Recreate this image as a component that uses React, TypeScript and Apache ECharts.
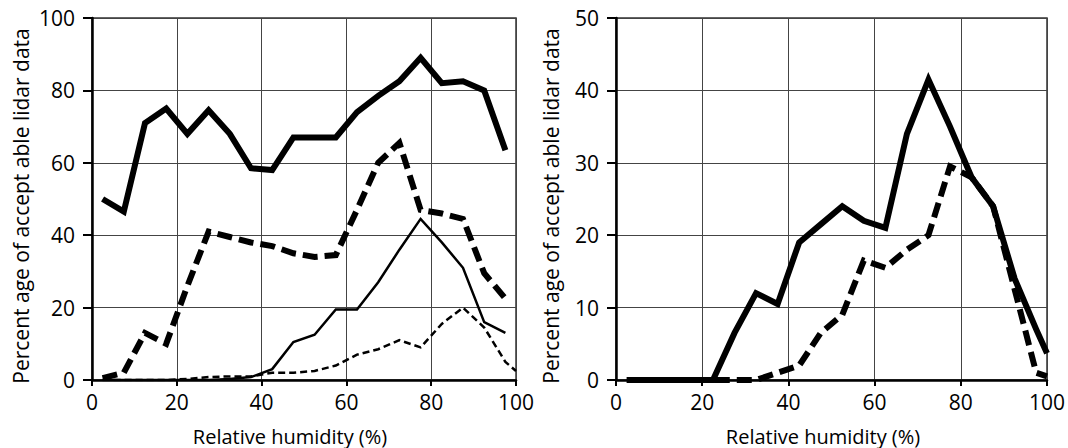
import React, { useEffect, useRef } from "react";
import * as echarts from "echarts";

// Relative humidity bin centres (%)
const rhBins = [2.5, 7.5, 12.5, 17.5, 22.5, 27.5, 32.5, 37.5, 42.5, 47.5, 52.5, 57.5, 62.5, 67.5, 72.5, 77.5, 82.5, 87.5, 92.5, 97.5];
const rhBinsExt = [2.5, 7.5, 12.5, 17.5, 22.5, 27.5, 32.5, 37.5, 42.5, 47.5, 52.5, 57.5, 62.5, 67.5, 72.5, 77.5, 82.5, 87.5, 92.5, 97.5, 100];

// Left panel
const leftThickSolid = [50, 46.5, 71, 75, 68, 74.5, 68, 58.5, 58, 67, 67, 67, 74, 78.5, 82.5, 89, 82, 82.5, 80, 63.5];
const leftThickDashed = [0.5, 2, 13, 10, 26, 41, 39.5, 38, 37, 35, 34, 34.5, 47, 60, 65.5, 47, 46, 44.5, 29.5, 22.5];
const leftThinSolid = [0, 0, 0, 0, 0, 0, 0.3, 0.8, 3, 10.5, 12.5, 19.5, 19.5, 27, 36, 44.5, 38, 31, 16, 13];
const leftThinDashed = [0, 0, 0, 0, 0.3, 0.8, 1, 1, 2, 2, 2.5, 4, 7, 8.5, 11, 9, 15.5, 20, 14.5, 5, 2.5];

// Right panel
const rightThickSolid = [0, 0, 0, 0, 0, 6.5, 12, 10.5, 19, 21.5, 24, 22, 21, 34, 41.5, 35, 28, 24, 14, 7, 3.7];
const rightThickDashed = [0, 0, 0, 0, 0, 0, 0, 1, 2, 6.5, 9, 16.5, 15.5, 18, 20, 29.5, 28, 24, 12.5, 1, 0.5];

const xTicks = { min: 0, max: 100, interval: 20 };
const leftY = { min: 0, max: 100, interval: 20 };
const rightY = { min: 0, max: 50, interval: 10 };

const yTitle = "Percent age of accept able lidar data";
const xTitle = "Relative humidity (%)";

const FONT = "'Open Sans', 'Noto Sans', sans-serif";

function pairs(xs: number[], ys: number[]) {
  return ys.map((y, i) => [xs[i], y]);
}

export default function App() {
  const ref = useRef<HTMLDivElement>(null);
  useEffect(() => {
    if (!ref.current) return;
    const chart = echarts.init(ref.current, null, { renderer: "svg" });
    const axisLine = { show: true, onZero: false, lineStyle: { color: "#000", width: 2.5 } };
    const split = { show: true, lineStyle: { color: "#444", width: 1 } };
    const mkX = (gi: number) => ({
      type: "value",
      gridIndex: gi,
      ...xTicks,
      axisLine,
      axisTick: { show: true, length: 6, lineStyle: { color: "#000", width: 2 } },
      axisLabel: { fontSize: 21, color: "#000", fontFamily: FONT, margin: 11 },
      splitLine: split,
    });
    const mkY = (gi: number, r: any) => ({
      type: "value",
      gridIndex: gi,
      ...r,
      axisLine,
      axisTick: { show: true, length: 9, lineStyle: { color: "#000", width: 2 } },
      axisLabel: { fontSize: 21, color: "#000", fontFamily: FONT, margin: 17 },
      splitLine: split,
    });
    const line = (gi: number, data: number[][], width: number, type: any) => ({
      type: "line",
      xAxisIndex: gi,
      yAxisIndex: gi,
      data,
      symbol: "none",
      showSymbol: false,
      lineStyle: { color: "#000", width, type, join: "miter", cap: "butt" },
    });
    const textEl = (x: number, y: number, text: string, rot: number, size: number) => ({
      type: "text",
      x,
      y,
      rotation: rot,
      style: {
        text,
        fontSize: size,
        fontFamily: FONT,
        fill: "#000",
        align: "center",
        verticalAlign: "middle",
        textAlign: "center",
        textVerticalAlign: "middle",
      },
    });
    chart.setOption({
      animation: false,
      grid: [
        { left: 92, top: 18, width: 424, height: 362, show: true, borderColor: "#333", borderWidth: 1.5, containLabel: false },
        { left: 616, top: 18, width: 437, height: 362, show: true, borderColor: "#333", borderWidth: 1.5, containLabel: false },
      ],
      xAxis: [mkX(0), mkX(1)],
      yAxis: [mkY(0, leftY), mkY(1, rightY)],
      series: [
        line(0, pairs(rhBins, leftThinSolid), 2.5, "solid"),
        line(0, pairs(rhBinsExt, leftThinDashed), 2.5, [7, 4]),
        line(0, pairs(rhBins, leftThickDashed), 6, [15, 7]),
        line(0, pairs(rhBins, leftThickSolid), 6, "solid"),
        line(1, pairs(rhBinsExt, rightThickDashed), 6, [15, 7]),
        line(1, pairs(rhBinsExt, rightThickSolid), 6, "solid"),
      ],
      graphic: [
        textEl(21, 206, yTitle, Math.PI / 2, 21),
        textEl(551, 206, yTitle, Math.PI / 2, 21),
        textEl(290, 436, xTitle, 0, 20),
        textEl(823, 436, xTitle, 0, 20),
      ],
    });
    return () => chart.dispose();
  }, []);
  return <div ref={ref} style={{ position: "absolute", left: 0, top: 0, width: 1068, height: 448 }} />;
}
